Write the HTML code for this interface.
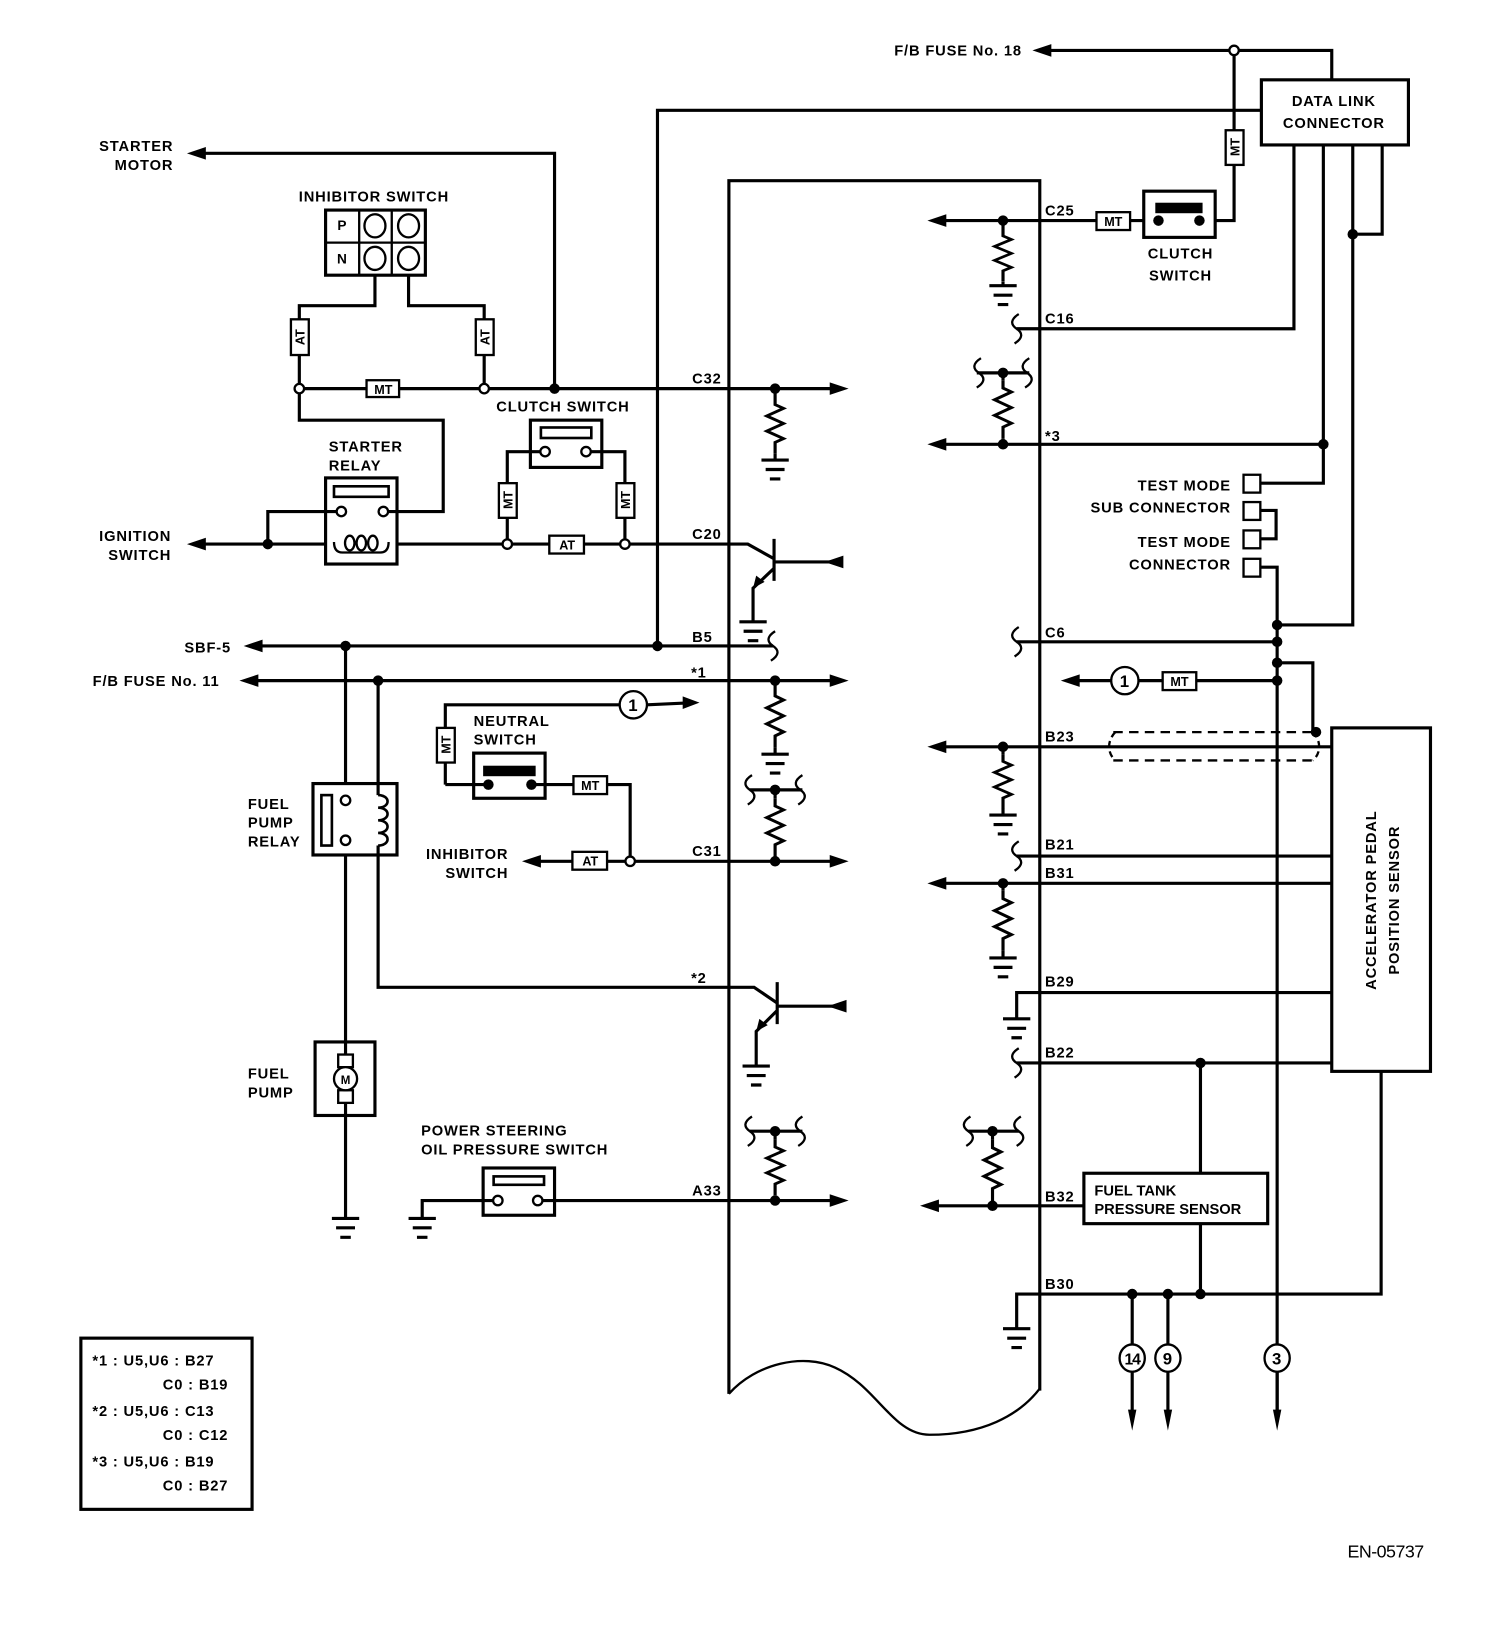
<!DOCTYPE html>
<html><head><meta charset="utf-8"><style>
html,body{margin:0;padding:0;background:#fff;}
svg{display:block;}
text{font-family:"Liberation Sans",Arial,sans-serif;font-weight:bold;font-size:14px;fill:#000;letter-spacing:0.8px;}
.t{font-size:12px;letter-spacing:0;}
</style></head><body>
<svg width="1504" height="1648" viewBox="0 0 1432 1569" preserveAspectRatio="none" xmlns="http://www.w3.org/2000/svg">
<defs>
<path id="res" d="M0,0 v8 l8,4 l-16,8 l16,8 l-16,8 l16,8 l-8,4 v12" fill="none" stroke="#000" stroke-width="3"/>
<path id="gnd" d="M-13,0h26 M-9,9h18 M-5,18h10" stroke="#000" stroke-width="3"/>
<path id="wav" d="M2,-14 c-8,5 -8,10 -2,14 c6,4 6,9 -2,14" fill="none" stroke="#000" stroke-width="2.2"/>
</defs>
<g fill="none" stroke="#000" stroke-width="3">
<path d="M694,1327 V172 H990 V1324"/>
<path d="M694,1327 C720,1298 765,1288 795,1302 C835,1320 850,1366 885,1366 C935,1366 970,1348 990,1322" stroke-width="2.2"/>

<path d="M995,48 H1175 H1268 V76"/>
<path d="M1175,48 V210 H1157"/>
<path d="M626,615 V105 H1201"/>
<rect x="1201" y="76" width="140" height="62"/>
<rect x="1089" y="182" width="68" height="44"/>
<path d="M1089,210 H1076 M1044,210 H895"/>
<path d="M1232,138 V313 H968"/>
<path d="M1260,138 V460 H1200"/>
<path d="M1288,138 V595 H1216"/>
<path d="M1316,138 V223 H1288"/>
<path d="M955,210 V218 M955,268 V272"/>
<path d="M895,423 H1260"/>
<path d="M1200,486 H1215 V513 H1200"/>
<path d="M1200,540 H1216 V1345"/>
<path d="M968,611 H1216"/>
<path d="M1216,631 H1250 V697"/>
<path d="M1022,648 H1058 M1084,648 H1107 M1139,648 H1216"/>
<path d="M895,711 H1268"/>
<path d="M968,815 H1268"/>
<path d="M895,841 H1268"/>
<path d="M968,970 V945 H1268"/>
<path d="M968,1012 H1268"/>
<path d="M1143,1012 V1117 M1143,1165 V1232"/>
<path d="M888,1148 H1032"/>
<path d="M968,1265 V1232 H1315 V1020"/>
<path d="M1078,1232 V1280 M1078,1306 V1345 M1112,1232 V1280 M1112,1306 V1345 M1216,1306 V1345"/>
<rect x="1268" y="693" width="94" height="327"/>
<rect x="1032" y="1117" width="175" height="48"/>
<path d="M1060,697 H1252 M1060,724 H1252" stroke-dasharray="9,6" stroke-width="2.2"/>
<path d="M1062,697 c-8,8 -8,20 0,27 M1250,697 c8,8 8,20 0,27" stroke-dasharray="6,4" stroke-width="2.2"/>
<path d="M955,355 V362 M955,418 V423 M930,355 H980"/>
<path d="M955,711 V718 M955,770 V776 M955,841 V848 M955,905 V912"/>
<path d="M945,1077 V1085 M945,1143 V1148 M922,1077 H970"/>

<path d="M190,146 H528 V370"/>
<rect x="310" y="200" width="95" height="62"/>
<path d="M342,200 V262 M373,200 V262 M310,231 H405" stroke-width="2.2"/>
<ellipse cx="357" cy="215" rx="10" ry="11" stroke-width="2.2"/>
<ellipse cx="389" cy="215" rx="10" ry="11" stroke-width="2.2"/>
<ellipse cx="357" cy="246" rx="10" ry="11" stroke-width="2.2"/>
<ellipse cx="389" cy="246" rx="10" ry="11" stroke-width="2.2"/>
<path d="M357,262 V291 H285 V370 M389,262 V291 H461 V370"/>
<path d="M285,370 H349 M380,370 H461 H795"/>
<path d="M285,370 V400 H422 V487 H370"/>
<rect x="310" y="455" width="68" height="82"/>
<rect x="318" y="463" width="52" height="10" stroke-width="2.5"/>
<path d="M190,518 H310 M378,518 H523 M556,518 H712 L737,532"/>
<path d="M318,516 c0,8 4,10 8,10 h36 c4,0 8,-2 8,-10" stroke-width="2.2"/>
<ellipse cx="333" cy="517" rx="4.5" ry="7" stroke-width="2.2"/>
<ellipse cx="344" cy="517" rx="4.5" ry="7" stroke-width="2.2"/>
<ellipse cx="355" cy="517" rx="4.5" ry="7" stroke-width="2.2"/>
<path d="M255,518 V487 H320"/>
<rect x="505" y="400" width="68" height="45"/>
<rect x="515" y="407" width="48" height="10" stroke-width="2.5"/>
<path d="M514,430 H483 V518 M563,430 H595 V518"/>
<path d="M737,513 V553 M737,541 L717,560 V592 M737,535 H800"/>
<path d="M738,370 V378 M738,432 V438"/>

<path d="M244,615 H736"/>
<path d="M240,648 H795"/>
<path d="M329,615 V746 M329,814 V1160"/>
<path d="M360,648 V757 M360,805 V940 H718 L740,955"/>
<rect x="298" y="746" width="80" height="68"/>
<rect x="306" y="757" width="10" height="48" stroke-width="2.5"/>
<path d="M360,757 c12,0 12,12 0,12 c12,0 12,12 0,12 c12,0 12,12 0,12 c12,0 12,12 0,12" stroke-width="2.5"/>
<path d="M740,935 V975 M740,962 L720,982 V1015 M740,958 H805"/>
<path d="M738,648 V655 M738,712 V718 M738,752 V760 M738,815 V820 M714,752 H764"/>
<path d="M424,747 V671 H590 M616,671 L660,669"/>
<rect x="451" y="717" width="68" height="43"/>
<path d="M424,747 H465 M506,747 H546 M578,747 H600 V820"/>
<path d="M509,820 H545 M578,820 H795"/>
<rect x="300" y="992" width="57" height="70"/>
<path d="M402,1160 V1143 H470 M516,1143 H795"/>
<rect x="460" y="1112" width="68" height="45"/>
<rect x="470" y="1120" width="48" height="8" stroke-width="2.5"/>
<path d="M738,1077 V1085 M738,1138 V1143 M714,1077 H764"/>
<rect x="77" y="1274" width="163" height="163"/>
</g>

<rect x="1100" y="193" width="45" height="10" fill="#000"/>
<rect x="460" y="729" width="50" height="10" fill="#000"/>

<use href="#res" transform="translate(955,218) scale(1,0.83)"/>
<use href="#res" transform="translate(738,378) scale(1,0.9)"/>
<use href="#res" transform="translate(955,362) scale(1,0.93)"/>
<use href="#res" transform="translate(738,655) scale(1,0.95)"/>
<use href="#res" transform="translate(738,760) scale(1,0.92)"/>
<use href="#res" transform="translate(955,718) scale(1,0.87)"/>
<use href="#res" transform="translate(955,848) scale(1,0.95)"/>
<use href="#res" transform="translate(738,1085) scale(1,0.88)"/>
<use href="#res" transform="translate(945,1085) scale(1,0.97)"/>

<use href="#gnd" x="955" y="272"/>
<use href="#gnd" x="738" y="438"/>
<use href="#gnd" x="717" y="592"/>
<use href="#gnd" x="738" y="718"/>
<use href="#gnd" x="955" y="776"/>
<use href="#gnd" x="955" y="912"/>
<use href="#gnd" x="968" y="970"/>
<use href="#gnd" x="720" y="1015"/>
<use href="#gnd" x="329" y="1160"/>
<use href="#gnd" x="402" y="1160"/>
<use href="#gnd" x="968" y="1265"/>

<use href="#wav" x="968" y="313"/>
<use href="#wav" x="932" y="355"/>
<use href="#wav" x="978" y="355"/>
<use href="#wav" x="968" y="611"/>
<use href="#wav" x="736" y="615"/>
<use href="#wav" x="968" y="815"/>
<use href="#wav" x="968" y="1012"/>
<use href="#wav" x="714" y="752"/>
<use href="#wav" x="762" y="752"/>
<use href="#wav" x="714" y="1077"/>
<use href="#wav" x="762" y="1077"/>
<use href="#wav" x="922" y="1077"/>
<use href="#wav" x="970" y="1077"/>

<g fill="#000">
<polygon points="983,48 1001,42 1001,54"/>
<polygon points="178,146 196,140 196,152"/>
<polygon points="178,518 196,512 196,524"/>
<polygon points="232,615 250,609 250,621"/>
<polygon points="228,648 246,642 246,654"/>
<polygon points="497,820 515,814 515,826"/>
<polygon points="808,370 790,364 790,376"/>
<polygon points="808,648 790,642 790,654"/>
<polygon points="808,820 790,814 790,826"/>
<polygon points="808,1143 790,1137 790,1149"/>
<polygon points="785,535 803,529 803,541"/>
<polygon points="788,958 806,952 806,964"/>
<polygon points="666,669 650,663 650,675"/>
<polygon points="717,560 720,548 728,554"/>
<polygon points="720,982 723,970 731,976"/>
<polygon points="883,210 901,204 901,216"/>
<polygon points="883,423 901,417 901,429"/>
<polygon points="883,711 901,705 901,717"/>
<polygon points="883,841 901,835 901,847"/>
<polygon points="876,1148 894,1142 894,1154"/>
<polygon points="1010,648 1028,642 1028,654"/>
<polygon points="1078,1362 1074,1342 1082,1342"/>
<polygon points="1112,1362 1108,1342 1116,1342"/>
<polygon points="1216,1362 1212,1342 1220,1342"/>
<circle cx="528" cy="370" r="5"/><circle cx="738" cy="370" r="5"/>
<circle cx="255" cy="518" r="5"/>
<circle cx="329" cy="615" r="5"/><circle cx="626" cy="615" r="5"/>
<circle cx="360" cy="648" r="5"/><circle cx="738" cy="648" r="5"/>
<circle cx="738" cy="752" r="5"/><circle cx="738" cy="820" r="5"/>
<circle cx="738" cy="1077" r="5"/><circle cx="738" cy="1143" r="5"/>
<circle cx="465" cy="747" r="5"/><circle cx="506" cy="747" r="5"/>
<circle cx="1103" cy="210" r="5"/><circle cx="1142" cy="210" r="5"/>
<circle cx="955" cy="210" r="5"/><circle cx="1288" cy="223" r="5"/>
<circle cx="955" cy="355" r="5"/><circle cx="955" cy="423" r="5"/><circle cx="1260" cy="423" r="5"/>
<circle cx="1216" cy="595" r="5"/><circle cx="1216" cy="611" r="5"/><circle cx="1216" cy="631" r="5"/><circle cx="1216" cy="648" r="5"/>
<circle cx="1253" cy="697" r="5"/>
<circle cx="955" cy="711" r="5"/><circle cx="955" cy="841" r="5"/>
<circle cx="1143" cy="1012" r="5"/>
<circle cx="945" cy="1077" r="5"/><circle cx="945" cy="1148" r="5"/>
<circle cx="1078" cy="1232" r="5"/><circle cx="1112" cy="1232" r="5"/><circle cx="1143" cy="1232" r="5"/>
</g>
<g fill="#fff" stroke="#000" stroke-width="2.2">
<circle cx="1175" cy="48" r="4.5"/>
<circle cx="285" cy="370" r="4.5"/><circle cx="461" cy="370" r="4.5"/>
<circle cx="325" cy="487" r="4.5"/><circle cx="365" cy="487" r="4.5"/>
<circle cx="519" cy="430" r="4.5"/><circle cx="558" cy="430" r="4.5"/>
<circle cx="483" cy="518" r="4.5"/><circle cx="595" cy="518" r="4.5"/>
<circle cx="329" cy="762" r="4.5"/><circle cx="329" cy="800" r="4.5"/>
<circle cx="600" cy="820" r="4.5"/>
<circle cx="474" cy="1143" r="4.5"/><circle cx="512" cy="1143" r="4.5"/>
<rect x="1184" y="452" width="16" height="17"/>
<rect x="1184" y="478" width="16" height="17"/>
<rect x="1184" y="505" width="16" height="17"/>
<rect x="1184" y="532" width="16" height="17"/>
<rect x="322" y="1004" width="14" height="12"/>
<rect x="322" y="1038" width="14" height="12"/>
<circle cx="329" cy="1027" r="11"/>
<circle cx="603" cy="671" r="13"/>
<circle cx="1071" cy="648" r="13"/>
<ellipse cx="1078" cy="1293" rx="12" ry="13"/>
<ellipse cx="1112" cy="1293" rx="12" ry="13"/>
<ellipse cx="1216" cy="1293" rx="12" ry="13"/>
<rect x="1044" y="202" width="32" height="17"/>
<rect x="349" y="362" width="31" height="16"/>
<rect x="523" y="510" width="33" height="17"/>
<rect x="546" y="739" width="32" height="17"/>
<rect x="545" y="811" width="33" height="17"/>
<rect x="1107" y="640" width="32" height="17"/>
<rect x="1167" y="124" width="17" height="33"/>
<rect x="277" y="304" width="17" height="34"/>
<rect x="453" y="304" width="17" height="34"/>
<rect x="475" y="460" width="17" height="33"/>
<rect x="587" y="460" width="17" height="33"/>
<rect x="416" y="693" width="17" height="33"/>
</g>
<g class="t" text-anchor="middle">
<text class="t" x="1060" y="215">MT</text>
<text class="t" x="365" y="375">MT</text>
<text class="t" x="540" y="523">AT</text>
<text class="t" x="562" y="752">MT</text>
<text class="t" x="562" y="824">AT</text>
<text class="t" x="1123" y="653">MT</text>
<text class="t" transform="translate(1180,140) rotate(-90)">MT</text>
<text class="t" transform="translate(290,321) rotate(-90)">AT</text>
<text class="t" transform="translate(466,321) rotate(-90)">AT</text>
<text class="t" transform="translate(488,476) rotate(-90)">MT</text>
<text class="t" transform="translate(600,476) rotate(-90)">MT</text>
<text class="t" transform="translate(429,709) rotate(-90)">MT</text>
<text class="t" x="329" y="1032" style="font-size:11px">M</text>
<text x="603" y="677" style="font-size:16px">1</text>
<text x="1071" y="654" style="font-size:16px">1</text>
<text x="1078" y="1299" style="font-size:15px;letter-spacing:-1px">14</text>
<text x="1112" y="1299" style="font-size:16px">9</text>
<text x="1216" y="1299" style="font-size:16px">3</text>
</g>

<g>
<text x="973" y="53" text-anchor="end">F/B FUSE No. 18</text>
<text x="1270" y="101" text-anchor="middle">DATA LINK</text>
<text x="1270" y="122" text-anchor="middle">CONNECTOR</text>
<text x="1124" y="246" text-anchor="middle">CLUTCH</text>
<text x="1124" y="267" text-anchor="middle">SWITCH</text>
<text x="995" y="205">C25</text>
<text x="995" y="308">C16</text>
<text x="995" y="420">*3</text>
<text x="1172" y="467" text-anchor="end">TEST MODE</text>
<text x="1172" y="488" text-anchor="end">SUB CONNECTOR</text>
<text x="1172" y="521" text-anchor="end">TEST MODE</text>
<text x="1172" y="542" text-anchor="end">CONNECTOR</text>
<text x="995" y="607">C6</text>
<text x="995" y="706">B23</text>
<text x="995" y="809">B21</text>
<text x="995" y="836">B31</text>
<text x="995" y="939">B29</text>
<text x="995" y="1007">B22</text>
<text x="995" y="1144">B32</text>
<text x="995" y="1227">B30</text>
<text x="1042" y="1138" style="letter-spacing:0">FUEL TANK</text>
<text x="1042" y="1156" style="letter-spacing:0">PRESSURE SENSOR</text>
<text transform="translate(1310,857) rotate(-90)" text-anchor="middle">ACCELERATOR PEDAL</text>
<text transform="translate(1332,857) rotate(-90)" text-anchor="middle">POSITION SENSOR</text>

<text x="165" y="144" text-anchor="end">STARTER</text>
<text x="165" y="162" text-anchor="end">MOTOR</text>
<text x="356" y="192" text-anchor="middle">INHIBITOR SWITCH</text>
<text x="326" y="219" text-anchor="middle" style="font-size:13px">P</text>
<text x="326" y="251" text-anchor="middle" style="font-size:13px">N</text>
<text x="536" y="392" text-anchor="middle">CLUTCH SWITCH</text>
<text x="313" y="430">STARTER</text>
<text x="313" y="448">RELAY</text>
<text x="163" y="515" text-anchor="end">IGNITION</text>
<text x="163" y="533" text-anchor="end">SWITCH</text>
<text x="659" y="365">C32</text>
<text x="659" y="513">C20</text>
<text x="220" y="621" text-anchor="end">SBF-5</text>
<text x="209" y="653" text-anchor="end">F/B FUSE No. 11</text>
<text x="659" y="611">B5</text>
<text x="658" y="645">*1</text>
<text x="451" y="691">NEUTRAL</text>
<text x="451" y="709">SWITCH</text>
<text x="236" y="770">FUEL</text>
<text x="236" y="788">PUMP</text>
<text x="236" y="806">RELAY</text>
<text x="484" y="818" text-anchor="end">INHIBITOR</text>
<text x="484" y="836" text-anchor="end">SWITCH</text>
<text x="659" y="815">C31</text>
<text x="658" y="936">*2</text>
<text x="236" y="1027">FUEL</text>
<text x="236" y="1045">PUMP</text>
<text x="401" y="1081">POWER STEERING</text>
<text x="401" y="1099">OIL PRESSURE SWITCH</text>
<text x="659" y="1138">A33</text>

<text x="88" y="1300">*1 : U5,U6  : B27</text>
<text x="155" y="1323">C0  : B19</text>
<text x="88" y="1348">*2 : U5,U6  : C13</text>
<text x="155" y="1371">C0  : C12</text>
<text x="88" y="1396">*3 : U5,U6  : B19</text>
<text x="155" y="1419">C0  : B27</text>
<text x="1283" y="1483" style="font-weight:normal;font-size:17px;letter-spacing:-0.5px">EN-05737</text>
</g>
</svg>
</body></html>
